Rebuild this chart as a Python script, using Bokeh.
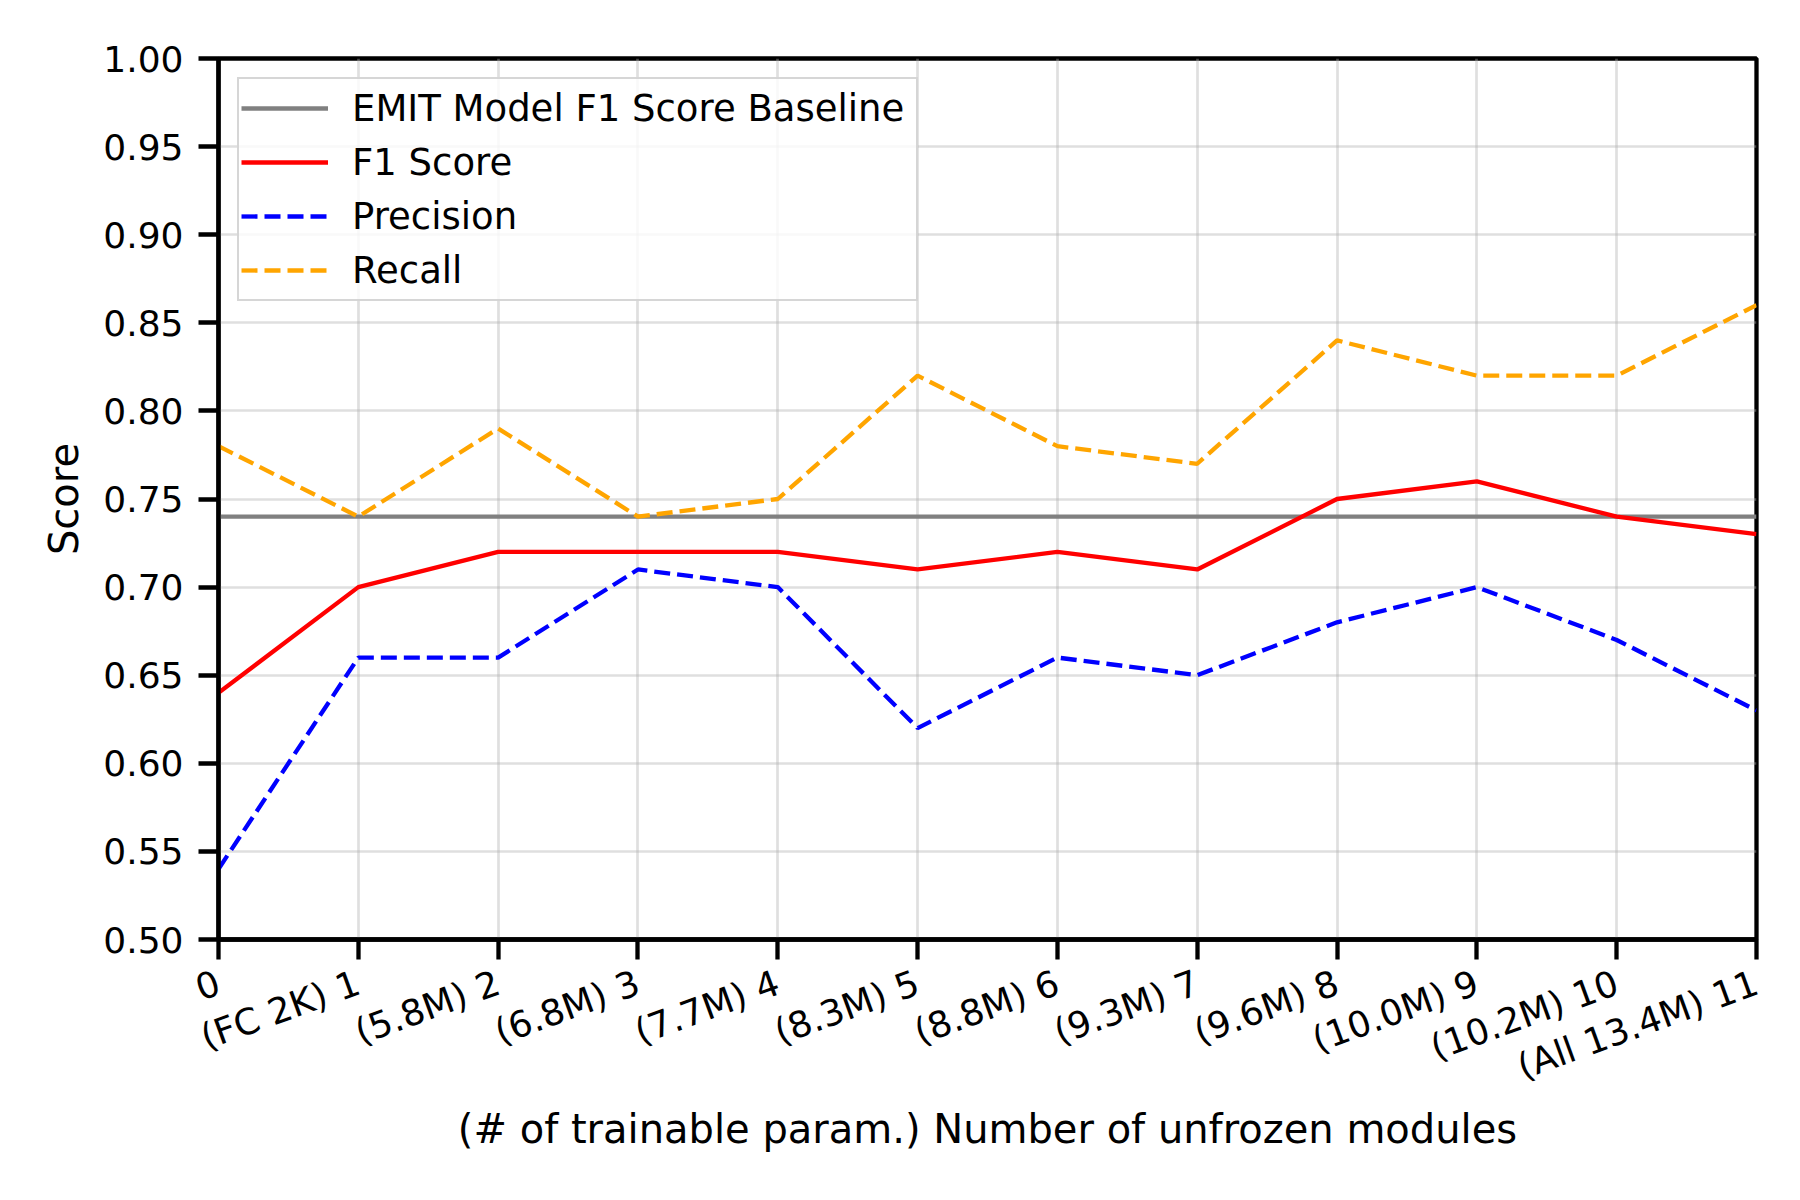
from bokeh.plotting import figure
from bokeh.models import Range1d, FixedTicker, NumeralTickFormatter, Legend, LegendItem
from bokeh.embed import file_html
from bokeh.resources import INLINE
import math

# ---- data ----
modules = [0, 1, 2, 3, 4, 5, 6, 7, 8, 9, 10, 11]
tick_labels = ["0", "(FC 2K) 1", "(5.8M) 2", "(6.8M) 3", "(7.7M) 4", "(8.3M) 5",
               "(8.8M) 6", "(9.3M) 7", "(9.6M) 8", "(10.0M) 9", "(10.2M) 10",
               "(All 13.4M) 11"]
f1_score = [0.64, 0.70, 0.72, 0.72, 0.72, 0.71, 0.72, 0.71, 0.75, 0.76, 0.74, 0.73]
precision = [0.54, 0.66, 0.66, 0.71, 0.70, 0.62, 0.66, 0.65, 0.68, 0.70, 0.67, 0.63]
recall = [0.78, 0.74, 0.79, 0.74, 0.75, 0.82, 0.78, 0.77, 0.84, 0.82, 0.82, 0.86]
baseline_f1 = 0.74
y_ticks = [0.50, 0.55, 0.60, 0.65, 0.70, 0.75, 0.80, 0.85, 0.90, 0.95, 1.00]

FONT = "DejaVu Sans"
LW = 4.3

p = figure(frame_width=1538, frame_height=881,
           x_range=Range1d(modules[0], modules[-1]), y_range=Range1d(0.5, 1.0),
           output_backend="svg", toolbar_location=None,
           min_border_left=218, min_border_right=27,
           min_border_top=58, min_border_bottom=240)

p.background_fill_color = "white"
p.border_fill_color = "white"
p.outline_line_color = "black"
p.outline_line_width = LW

r_base = p.line(x=[modules[0], modules[-1]], y=[baseline_f1, baseline_f1],
                line_color="gray", line_width=LW)
r_f1 = p.line(x=modules, y=f1_score, line_color="red", line_width=LW)
r_pr = p.line(x=modules, y=precision, line_color="blue", line_width=LW,
              line_dash="16 7")
r_re = p.line(x=modules, y=recall, line_color="orange", line_width=LW,
              line_dash="16 7")

# axes
xa = p.xaxis[0]
xa.ticker = FixedTicker(ticks=modules)
xa.major_label_overrides = {m: lab for m, lab in zip(modules, tick_labels)}
xa.major_label_orientation = math.radians(20)
xa.axis_label = "(# of trainable param.) Number of unfrozen modules"

ya = p.yaxis[0]
ya.ticker = FixedTicker(ticks=y_ticks)
ya.formatter = NumeralTickFormatter(format="0.00")
ya.axis_label = "Score"

for ax in (xa, ya):
    ax.axis_line_width = LW
    ax.axis_line_color = "black"
    ax.major_tick_line_width = LW
    ax.major_tick_line_color = "black"
    ax.major_tick_out = 20
    ax.major_tick_in = 0
    ax.minor_tick_line_color = None
    ax.major_label_text_font = FONT
    ax.major_label_text_font_size = "36px"
    ax.major_label_text_color = "black"
    ax.axis_label_text_font = FONT
    ax.axis_label_text_font_size = "40px"
    ax.axis_label_text_font_style = "normal"
    ax.axis_label_text_color = "black"

xa.major_label_standoff = 22
xa.axis_label_standoff = -3
ya.major_label_standoff = 15
ya.axis_label_standoff = 13

for g in (p.xgrid[0], p.ygrid[0]):
    g.grid_line_color = "#b0b0b0"
    g.grid_line_alpha = 0.4
    g.grid_line_width = 2.7
p.xgrid[0].ticker = FixedTicker(ticks=modules)
p.ygrid[0].ticker = FixedTicker(ticks=y_ticks)

legend = Legend(items=[
    LegendItem(label="EMIT Model F1 Score Baseline", renderers=[r_base]),
    LegendItem(label="F1 Score", renderers=[r_f1]),
    LegendItem(label="Precision", renderers=[r_pr]),
    LegendItem(label="Recall", renderers=[r_re]),
], location="top_left")
legend.margin = 19
legend.padding = 2
legend.spacing = 0
legend.label_height = 54
legend.glyph_height = 54
legend.glyph_width = 87
legend.label_standoff = 24
legend.label_width = 562
legend.label_text_font = FONT
legend.label_text_font_size = "37px"
legend.label_text_color = "black"
legend.background_fill_color = "white"
legend.background_fill_alpha = 0.8
legend.border_line_color = "#cccccc"
legend.border_line_alpha = 0.8
legend.border_line_width = 2.7
p.add_layout(legend)

open("out.html", "w").write(file_html(p, INLINE))
